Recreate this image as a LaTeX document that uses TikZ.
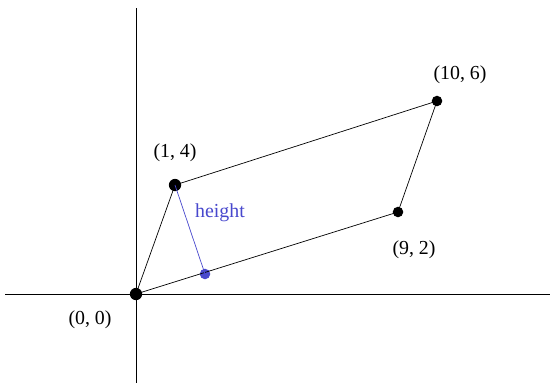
\documentclass[tikz,border=0pt]{standalone}
\usepackage{fontspec}
\setmainfont{Liberation Serif}
\usepackage{tikz}
\definecolor{heightblue}{RGB}{72,72,205}

\begin{document}
\begin{tikzpicture}[x=0.02cm, y=-0.02cm, font=\fontsize{11.3}{13}\selectfont,
  pt/.style={circle, fill=black, inner sep=0pt, minimum size=7pt},
  ptsmall/.style={circle, fill=black, inner sep=0pt, minimum size=6pt},
  lbl/.style={inner sep=1pt}]

  \useasboundingbox (0,0) rectangle (550,383);

  %% axes
  \draw[thin] (5,294) -- (550,294);
  \draw[thin] (136,8) -- (136,383);

  %% vertices of the parallelogram
  \node[pt]      (o) at (136,294) {};
  \node[pt]      (a) at (175,185) {};
  \node[ptsmall] (b) at (437,101) {};
  \node[ptsmall] (c) at (398,212) {};
  \node[ptsmall, fill=heightblue] (f) at (205,274) {};

  % sides
  \draw[thin] (o.center) -- (a.center) -- (b.center) -- (c.center) -- (o.center);

  % height
  \draw[thin, heightblue] (a.center) -- (f.center);
  \node[lbl, heightblue] (hlbl) at (220,213) {height};

  %% coordinate labels
  \node[lbl] (olbl) at (90,320) {(0, 0)};
  \node[lbl] (albl) at (175,153) {(1, 4)};
  \node[lbl] (blbl) at (460,75)  {(10, 6)};
  \node[lbl] (clbl) at (414,250) {(9, 2)};

\end{tikzpicture}
\end{document}
